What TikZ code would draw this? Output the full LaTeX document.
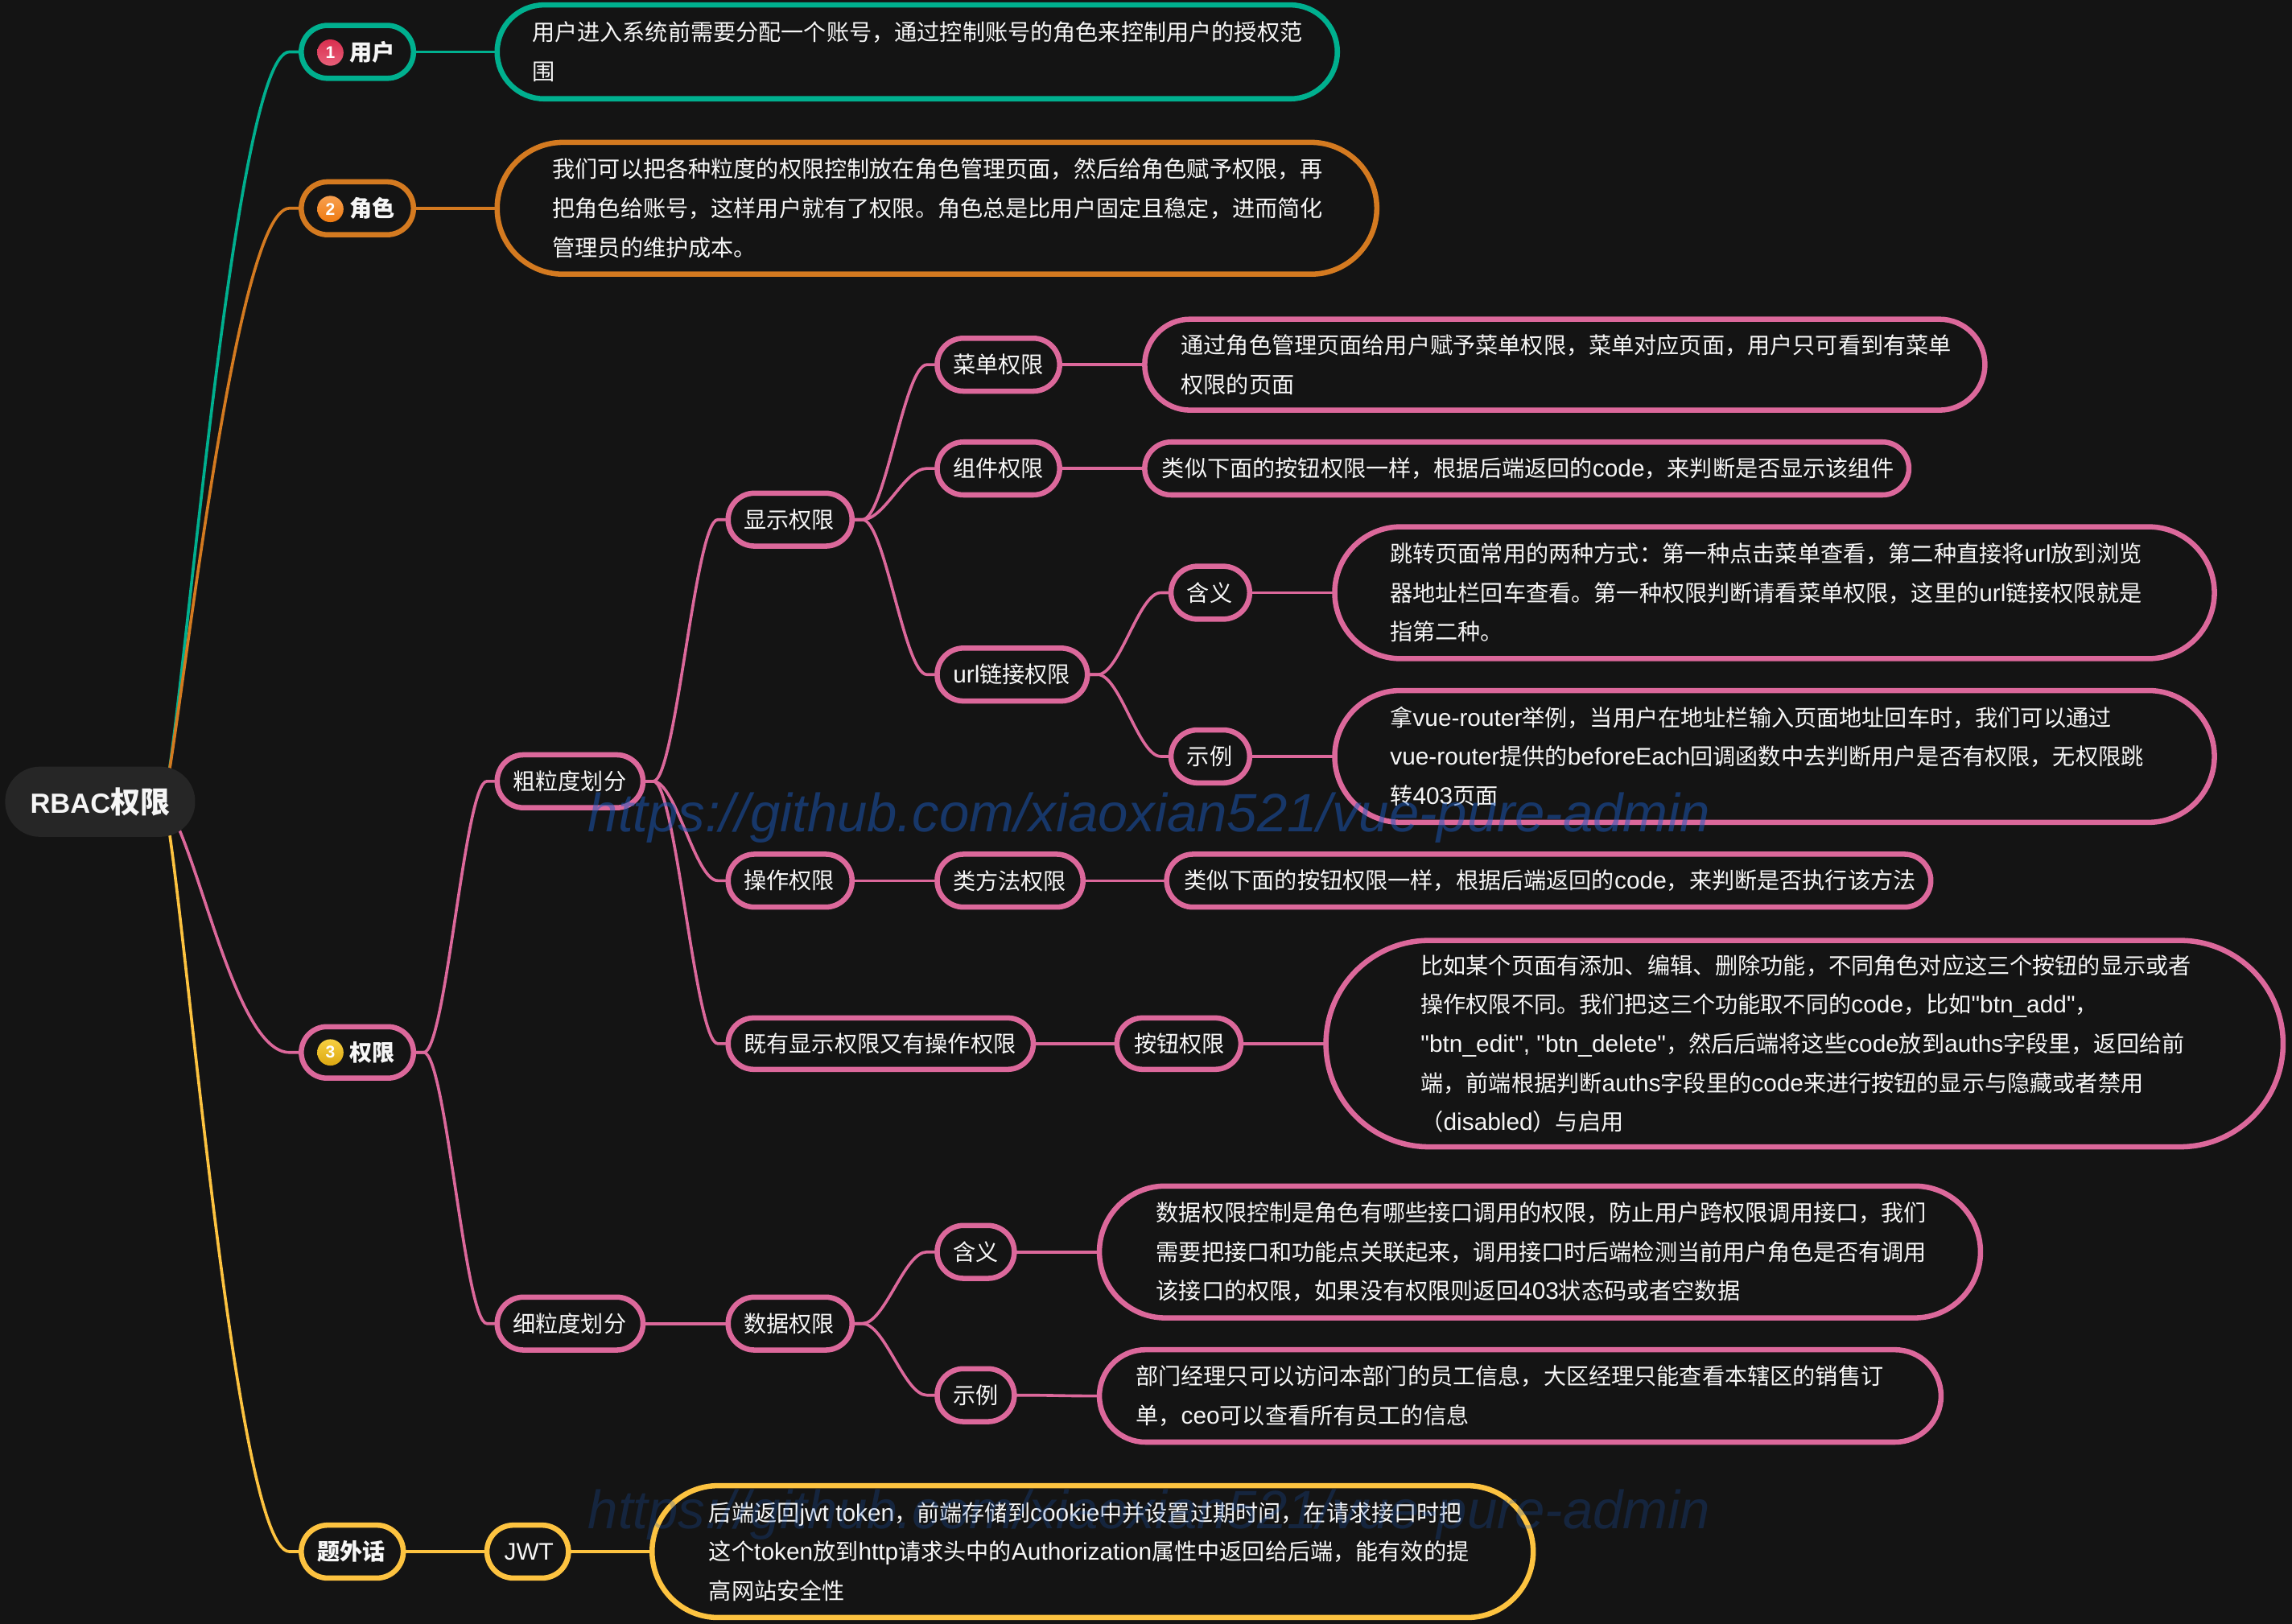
\documentclass[tikz,border=0pt]{standalone}
\usepackage{fontspec}
\setmainfont{Noto Sans CJK SC}
\newfontfamily\lat[Scale=1.06]{Liberation Sans}
\newfontfamily\wmf{Liberation Sans}
\newcommand{\medf}{\bfseries}
\newfontfamily\medlat{Liberation Sans}
\newcommand{\en}[1]{{\lat #1}}
\usetikzlibrary{calc}
\definecolor{bgc}{HTML}{141414}
\definecolor{rootc}{HTML}{262626}
\definecolor{txtc}{HTML}{F6F6F6}
\definecolor{tealc}{HTML}{00B08F}
\definecolor{orgc}{HTML}{D47A20}
\definecolor{pinkc}{HTML}{DC689B}
\definecolor{yelc}{HTML}{FDC340}
\definecolor{wmc}{HTML}{1A5ABF}
\definecolor{ballrt}{HTML}{D92F4F}
\definecolor{ballrb}{HTML}{E8607A}
\definecolor{ballot}{HTML}{F8A050}
\definecolor{ballob}{HTML}{EE7A10}
\definecolor{ballyt}{HTML}{F7D040}
\definecolor{ballyb}{HTML}{DCA812}
\pgfdeclarelayer{links}
\pgfsetlayers{links,main}
\tikzset{
 pillbox/.style={rectangle,fill=bgc,line width=1.8pt,inner sep=0pt,outer sep=0pt,text=txtc,font=\fontsize{7.75}{13.4}\selectfont},
 lk/.style={line width=1pt},
 badge/.style={circle,inner sep=0pt,minimum size=9pt,text=white,font=\medlat\bfseries\fontsize{5.8}{5.8}\selectfont},
 wmark/.style={anchor=west,inner sep=0pt,text=wmc,font=\wmf\itshape\fontsize{18.46}{19}\selectfont},
}
\newcommand{\bx}[8]{%
 \pgfmathsetmacro\bxW{(#4-#2-2.2)*0.5}%
 \pgfmathsetmacro\bxH{(#5-#3-2.8)*0.5}%
 \pgfmathsetmacro\bxR{\bxH/2-0.01}%
 \pgfmathsetmacro\bxP{(#6-#2-1.1)*0.5}%
 \pgfmathsetmacro\bxT{\bxW-\bxP}%
 \node[pillbox,draw=#7,minimum width=\bxW pt,minimum height=\bxH pt,rounded corners=\bxR pt] (#1) at ({(#2+#4)/2},{(#3+#5)/2})
 {\makebox[\bxW pt][l]{\hspace*{\bxP pt}\parbox[c]{\bxT pt}{#8}}};%
}
\newcommand{\lnk}[3]{%
 \begin{pgfonlayer}{links}
 \draw[lk,#1] let \p1=(#2.east),\p2=(#3.west),\n1={(\x2-\x1-7pt)*0.35} in
 (\p1) -- ($(\p1)+(3.5pt,0)$) .. controls ($(\p1)+(3.5pt+\n1,0)$) and ($(\p2)+(-3.5pt-\n1,0)$) .. ($(\p2)+(-3.5pt,0)$) -- (\p2);
 \end{pgfonlayer}%
}
\begin{document}
\begin{tikzpicture}[x=0.5pt,y=-0.5pt]
\useasboundingbox (0,0) rectangle (1568,1111);
\begin{pgfonlayer}{links}
\fill[bgc] (0,0) rectangle (1568,1111);
\end{pgfonlayer}
% first level
\bx{u}{205}{16}{284}{55}{239}{tealc}{\medf 用户}
\bx{ud}{339}{2}{916}{69}{364}{tealc}{用户进入系统前需要分配一个账号，通过控制账号的角色来控制用户的授权范\\围}
\bx{r}{205}{123}{284}{162}{239}{orgc}{\medf 角色}
\bx{rd}{339}{96}{943}{189}{378}{orgc}{我们可以把各种粒度的权限控制放在角色管理页面，然后给角色赋予权限，再\\把角色给账号，这样用户就有了权限。角色总是比用户固定且稳定，进而简化\\管理员的维护成本。}
\bx{p}{205}{701}{284}{739}{239}{pinkc}{\medf 权限}
\bx{x}{205}{1042}{277}{1081}{217}{yelc}{\medf 题外话}
\bx{jwt}{332}{1042}{390}{1081}{345}{yelc}{\en{JWT}}
\bx{jwtd}{445}{1015}{1050}{1108}{485}{yelc}{后端返回\en{jwt token}，前端存储到\en{cookie}中并设置过期时间，在请求接口时把\\这个\en{token}放到\en{http}请求头中的\en{Authorization}属性中返回给后端，能有效的提\\高网站安全性}
% second level
\bx{cu}{339}{515}{441}{554}{351}{pinkc}{粗粒度划分}
\bx{xi}{339}{886}{441}{925}{351}{pinkc}{细粒度划分}
\bx{xs}{497}{336}{584}{375}{509}{pinkc}{显示权限}
\bx{cz}{497}{583}{584}{622}{509}{pinkc}{操作权限}
\bx{jy}{497}{695}{708}{733}{509}{pinkc}{既有显示权限又有操作权限}
\bx{sj}{497}{886}{584}{925}{509}{pinkc}{数据权限}
\bx{cd}{640}{230}{726}{269}{652}{pinkc}{菜单权限}
\bx{zj}{640}{301}{726}{340}{652}{pinkc}{组件权限}
\bx{ul}{640}{442}{745}{481}{652}{pinkc}{\en{url}链接权限}
\bx{lf}{640}{583}{742}{622}{652}{pinkc}{类方法权限}
\bx{an}{763}{695}{850}{733}{776}{pinkc}{按钮权限}
\bx{hy}{800}{386}{856}{425}{812}{pinkc}{含义}
\bx{sl}{800}{498}{856}{537}{812}{pinkc}{示例}
\bx{hb}{640}{837}{695}{876}{652}{pinkc}{含义}
\bx{sb}{640}{935}{695}{974}{652}{pinkc}{示例}
% descriptions
\bx{cdd}{782}{217}{1359}{282}{808}{pinkc}{通过角色管理页面给用户赋予菜单权限，菜单对应页面，用户只可看到有菜单\\权限的页面}
\bx{zjd}{782}{301}{1307}{340}{795}{pinkc}{类似下面的按钮权限一样，根据后端返回的\en{code}，来判断是否显示该组件}
\bx{hyd}{912}{359}{1516}{452}{951}{pinkc}{跳转页面常用的两种方式：第一种点击菜单查看，第二种直接将\en{url}放到浏览\\器地址栏回车查看。第一种权限判断请看菜单权限，这里的\en{url}链接权限就是\\指第二种。}
\bx{sld}{912}{471}{1516}{564}{951}{pinkc}{拿\en{vue-router}举例，当用户在地址栏输入页面地址回车时，我们可以通过\\\en{vue-router}提供的\en{beforeEach}回调函数中去判断用户是否有权限，无权限跳\\转\en{403}页面}
\bx{lfd}{797}{583}{1322}{622}{810}{pinkc}{类似下面的按钮权限一样，根据后端返回的\en{code}，来判断是否执行该方法}
\bx{and}{906}{642}{1563}{786}{972}{pinkc}{比如某个页面有添加、编辑、删除功能，不同角色对应这三个按钮的显示或者\\操作权限不同。我们把这三个功能取不同的\en{code}，比如\en{"btn\_add"}，\\\en{"btn\_edit", "btn\_delete"}，然后后端将这些\en{code}放到\en{auths}字段里，返回给前\\端，前端根据判断\en{auths}字段里的\en{code}来进行按钮的显示与隐藏或者禁用\\（\en{disabled}）与启用}
\bx{hbd}{751}{810}{1356}{903}{791}{pinkc}{数据权限控制是角色有哪些接口调用的权限，防止用户跨权限调用接口，我们\\需要把接口和功能点关联起来，调用接口时后端检测当前用户角色是否有调用\\该接口的权限，如果没有权限则返回\en{403}状态码或者空数据}
\bx{sbd}{751}{922}{1329}{988}{777}{pinkc}{部门经理只可以访问本部门的员工信息，大区经理只能查看本辖区的销售订\\单，\en{ceo}可以查看所有员工的信息}
% root
\node[rectangle,fill=rootc,rounded corners=11.9pt,minimum width=65pt,minimum height=24pt,inner sep=0pt,text=txtc,font=\medlat\bfseries\fontsize{9.5}{12}\selectfont] (root) at (68.5,548.5) {RBAC{\rmfamily\bfseries\fontsize{10.2}{12}\selectfont 权限}};
% badges
\node[badge,top color=ballrt,bottom color=ballrb] (b1) at (226,36) {1};
\node[badge,top color=ballot,bottom color=ballob] (b2) at (226,143) {2};
\node[badge,top color=ballyt,bottom color=ballyb] (b3) at (226,720) {3};
% links from the root
\coordinate (rp) at (112,548);
\begin{pgfonlayer}{links}
\draw[lk,tealc] (rp) .. controls (125,500) and (160,35.5) .. (198,35.5) -- (u.west);
\draw[lk,orgc] (rp) .. controls (123,505) and (160,142.5) .. (198,142.5) -- (r.west);
\draw[lk,pinkc] (rp) .. controls (135,575) and (160,720) .. (198,720) -- (p.west);
\draw[lk,yelc] (rp) .. controls (125,596) and (160,1061.5) .. (198,1061.5) -- (x.west);
\end{pgfonlayer}
\lnk{tealc}{u}{ud}
\lnk{orgc}{r}{rd}
\lnk{pinkc}{p}{cu}
\lnk{pinkc}{p}{xi}
\lnk{pinkc}{cu}{xs}
\lnk{pinkc}{cu}{cz}
\lnk{pinkc}{cu}{jy}
\lnk{pinkc}{xi}{sj}
\lnk{pinkc}{xs}{cd}
\lnk{pinkc}{xs}{zj}
\lnk{pinkc}{xs}{ul}
\lnk{pinkc}{cd}{cdd}
\lnk{pinkc}{zj}{zjd}
\lnk{pinkc}{ul}{hy}
\lnk{pinkc}{ul}{sl}
\lnk{pinkc}{hy}{hyd}
\lnk{pinkc}{sl}{sld}
\lnk{pinkc}{cz}{lf}
\lnk{pinkc}{lf}{lfd}
\lnk{pinkc}{jy}{an}
\lnk{pinkc}{an}{and}
\lnk{pinkc}{sj}{hb}
\lnk{pinkc}{sj}{sb}
\lnk{pinkc}{hb}{hbd}
\lnk{pinkc}{sb}{sbd}
\lnk{yelc}{x}{jwt}
\lnk{yelc}{jwt}{jwtd}
% watermarks
\node[wmark,opacity=0.5] (wm1) at (402,559.5) {https://github.com/xiaoxian521/vue-pure-admin};
\node[wmark,opacity=0.25] (wm2) at (402,1036.5) {https://github.com/xiaoxian521/vue-pure-admin};
\end{tikzpicture}
\end{document}
